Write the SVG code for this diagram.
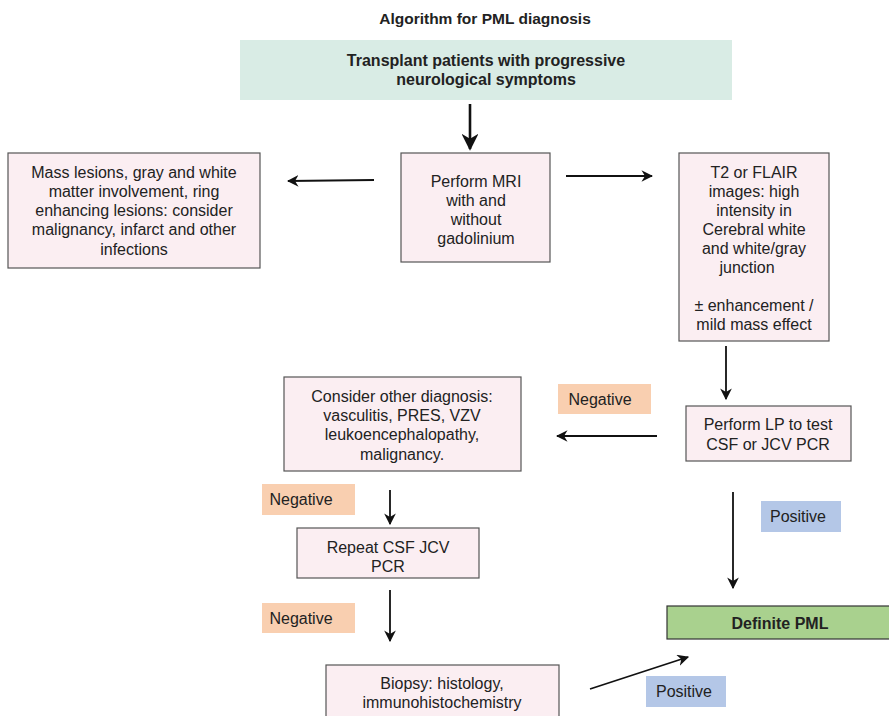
<svg xmlns="http://www.w3.org/2000/svg" width="889" height="716" viewBox="0 0 889 716">
<defs>
<style>
text{font-family:"Liberation Sans",Arial,sans-serif;fill:#222;font-size:16px;text-anchor:middle}
.b{font-weight:bold}
.box{fill:#fbeef2;stroke:#555;stroke-width:1.2}
.neg{fill:#f9cfb0}
.pos{fill:#b4c7e7}
.ln{stroke:#111;stroke-width:1.8;fill:none;marker-end:url(#ah)}
</style>
<marker id="ah" viewBox="0 0 10 10" refX="9" refY="5" markerWidth="6.5" markerHeight="6.5" orient="auto" markerUnits="strokeWidth">
<path d="M0,0 L10,5 L0,10 L3,5 z" fill="#111"/>
</marker>
</defs>
<text class="b" x="485" y="24" style="font-size:15.5px">Algorithm for PML diagnosis</text>

<g id="start">
<rect x="240" y="40" width="492" height="60" fill="#d9ece5"/>
<text class="b" x="486" y="66">Transplant patients with progressive</text>
<text class="b" x="486" y="85">neurological symptoms</text>
</g>

<g id="mri">
<rect class="box" x="401" y="153" width="149" height="109"/>
<text x="476" y="187">Perform MRI</text>
<text x="476" y="206">with and</text>
<text x="476" y="225">without</text>
<text x="476" y="244">gadolinium</text>
</g>

<g id="mass">
<rect class="box" x="8" y="153" width="252" height="115"/>
<text x="134" y="178">Mass lesions, gray and white</text>
<text x="134" y="197">matter involvement, ring</text>
<text x="134" y="216">enhancing lesions: consider</text>
<text x="134" y="235">malignancy, infarct and other</text>
<text x="134" y="255">infections</text>
</g>

<g id="t2">
<rect class="box" x="679" y="153" width="150" height="188"/>
<text x="754" y="178">T2 or FLAIR</text>
<text x="754" y="197">images: high</text>
<text x="754" y="216">intensity in</text>
<text x="754" y="235">Cerebral white</text>
<text x="754" y="254">and white/gray</text>
<text x="747" y="273">junction</text>
<text x="754" y="311">± enhancement /</text>
<text x="754" y="330">mild mass effect</text>
</g>

<g id="lp">
<rect class="box" x="686" y="406" width="165" height="55"/>
<text x="768" y="430">Perform LP to test</text>
<text x="768" y="450">CSF or JCV PCR</text>
</g>

<g id="consider">
<rect class="box" x="284" y="377" width="237" height="94"/>
<text x="402" y="402">Consider other diagnosis:</text>
<text x="402" y="421">vasculitis, PRES, VZV</text>
<text x="402" y="440">leukoencephalopathy,</text>
<text x="402" y="460">malignancy.</text>
</g>

<g id="repeat">
<rect class="box" x="297" y="528" width="182" height="50"/>
<text x="388" y="553">Repeat CSF JCV</text>
<text x="388" y="572">PCR</text>
</g>

<g id="biopsy">
<rect class="box" x="326" y="665" width="233" height="60"/>
<text x="442" y="689">Biopsy: histology,</text>
<text x="442" y="708">immunohistochemistry</text>
</g>

<g id="definite">
<rect x="667" y="606" width="230" height="33" fill="#a9d18e" stroke="#333" stroke-width="1.2"/>
<text class="b" x="780" y="629">Definite PML</text>
</g>

<g id="labels">
<rect class="neg" x="558" y="384" width="93" height="30"/>
<text x="600" y="405">Negative</text>
<rect class="neg" x="262" y="484" width="93" height="31"/>
<text x="301" y="505">Negative</text>
<rect class="neg" x="262" y="603" width="93" height="30"/>
<text x="301" y="624">Negative</text>
<rect class="pos" x="761" y="501" width="80" height="31"/>
<text x="798" y="522">Positive</text>
<rect class="pos" x="646" y="676" width="80" height="31"/>
<text x="684" y="697">Positive</text>
</g>

<g id="connectors">
<line class="ln" x1="470" y1="104" x2="470" y2="149" style="stroke-width:2.6"/>
<line class="ln" x1="374" y1="180" x2="288" y2="181"/>
<line class="ln" x1="566" y1="176" x2="652" y2="176"/>
<line class="ln" x1="726" y1="346" x2="726" y2="399"/>
<line class="ln" x1="657" y1="436" x2="557" y2="436"/>
<line class="ln" x1="390" y1="490" x2="390" y2="524"/>
<line class="ln" x1="390" y1="590" x2="390" y2="641"/>
<line class="ln" x1="733" y1="492" x2="733" y2="588"/>
<line class="ln" x1="590" y1="689" x2="688" y2="657"/>
</g>
</svg>
